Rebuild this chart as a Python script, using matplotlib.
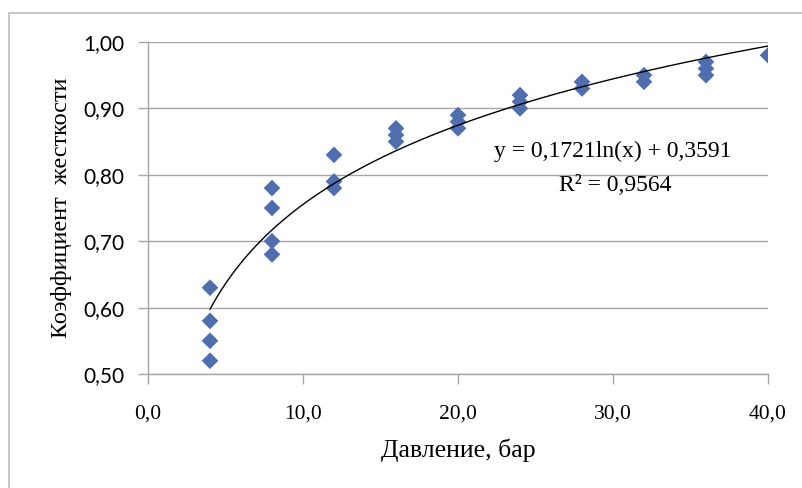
import numpy as np
import matplotlib.pyplot as plt
from matplotlib.patches import Rectangle

# Давление, бар
davlenie = [4, 4, 4, 4,
            8, 8, 8, 8,
            12, 12, 12,
            16, 16, 16,
            20, 20, 20,
            24, 24, 24,
            28, 28,
            32, 32,
            36, 36, 36,
            40]
# Коэффициент жесткости
koef = [0.63, 0.58, 0.55, 0.52,
        0.78, 0.75, 0.70, 0.68,
        0.83, 0.79, 0.78,
        0.87, 0.86, 0.85,
        0.89, 0.88, 0.87,
        0.92, 0.91, 0.90,
        0.94, 0.93,
        0.95, 0.94,
        0.97, 0.96, 0.95,
        0.98]

# логарифмический тренд из подписи на графике
a, b = 0.1721, 0.3591
r2 = 0.9564

y_ticks = [0.5, 0.6, 0.7, 0.8, 0.9, 1.0]
x_ticks = [0, 10, 20, 30, 40]

serif = ['Liberation Serif', 'DejaVu Serif']
sans = ['Lato', 'DejaVu Sans']
grid_c = '#a6a6a6'

fig = plt.figure(figsize=(8.02, 4.88), dpi=100)
# рамка области диаграммы
fig.patches.append(Rectangle((9 / 802, -0.1), 1.0, 1 - 13 / 488 + 0.1,
                             transform=fig.transFigure, fill=False,
                             edgecolor='#bfbfbf', linewidth=1.2))

ax = fig.add_axes([148 / 802, 1 - 374 / 488, 620 / 802, 332 / 488])

ax.scatter(davlenie, koef, marker='D', s=72, color='#4f6eb0',
           edgecolors='none', zorder=3)

xs = np.linspace(min(davlenie), max(davlenie), 200)
ax.plot(xs, a * np.log(xs) + b, color='black', linewidth=1.0, zorder=4)

ax.set_xlim(0, 40)
ax.set_ylim(0.5, 1.0)
ax.set_xticks(x_ticks)
ax.set_yticks(y_ticks)
ax.set_xticklabels([f'{v:.1f}'.replace('.', ',') for v in x_ticks],
                   family=serif, fontsize=15.5)
ax.set_yticklabels([f'{v:.2f}'.replace('.', ',') for v in y_ticks],
                   family=sans, fontsize=15)

ax.grid(axis='y', color=grid_c, linewidth=1.0)
ax.set_axisbelow(True)
for s in ['top', 'right']:
    ax.spines[s].set_visible(False)
for s in ['left', 'bottom']:
    ax.spines[s].set_color(grid_c)
    ax.spines[s].set_linewidth(1.0)
ax.tick_params(axis='both', color=grid_c, length=7, width=1.0)
ax.tick_params(axis='x', pad=15)
ax.tick_params(axis='y', pad=10)

ax.set_xlabel('Давление, бар', family=serif, fontsize=18.5, labelpad=11)
ax.set_ylabel('Коэффициент  жесткости', family=serif, fontsize=17.5,
              labelpad=8)

ax.text(0.75, 0.669, 'y = 0,1721ln(x) + 0,3591', transform=ax.transAxes,
        ha='center', va='center', family=serif, fontsize=17)
ax.text(0.753, 0.569, 'R² = 0,9564', transform=ax.transAxes,
        ha='center', va='center', family=serif, fontsize=17)

fig.savefig('out.png', dpi=100)
